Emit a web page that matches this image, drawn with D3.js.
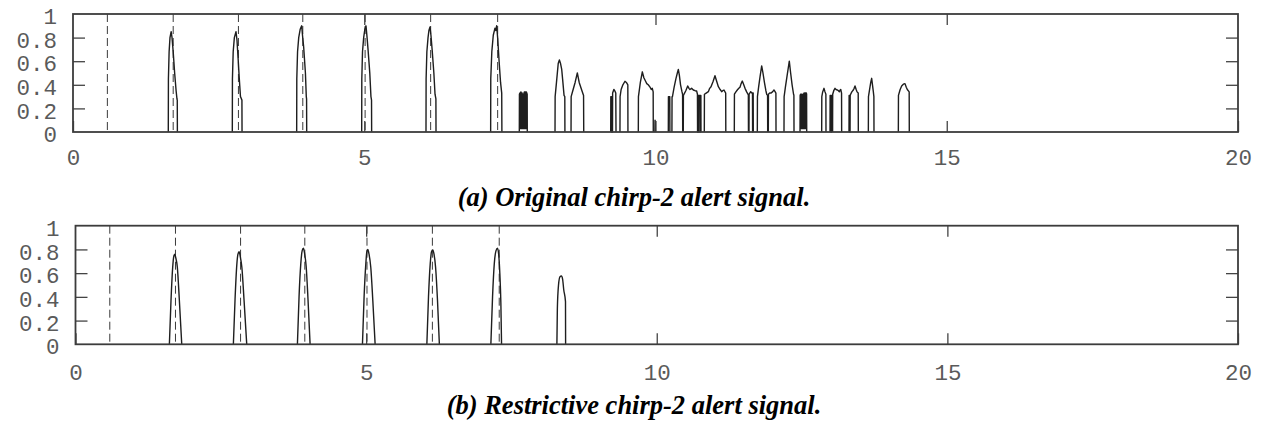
<!DOCTYPE html>
<html>
<head>
<meta charset="utf-8">
<script src="https://cdn.jsdelivr.net/npm/d3@7"></script>
<style>
  html, body { margin: 0; padding: 0; background: #fff; }
  svg { display: block; }
  .tick text { font-family: "Liberation Mono", "DejaVu Sans Mono", monospace; fill: #5a5a5a; }
  .caption { font-family: "Liberation Serif", "Times New Roman", serif; font-weight: bold; font-style: italic; fill: #000; }
</style>
</head>
<body>
<svg id="chart" width="1264" height="426"></svg>
<script>
// Axis ticks (time in seconds, normalised amplitude)
const timeTicks = [0, 5, 10, 15, 20];
const innerTimeTicks = [5, 10, 15];
const ampTicks = [0, 0.2, 0.4, 0.6, 0.8, 1];
const innerAmpTicks = [0.2, 0.4, 0.6, 0.8];

// Expected chirp onsets (dashed reference lines)
const onsetTimes = [0.59, 1.72, 2.84, 3.945, 5.015, 6.14, 7.29];

// (a) original chirp-2 alert signal: envelope of each detected burst, [time, amplitude]
const originalBursts = [
  [[1.636,0],[1.638,0.45],[1.65,0.68],[1.665,0.8],[1.685,0.85],[1.70,0.8],[1.72,0.68],[1.745,0.5],[1.77,0.35],[1.785,0.28],[1.79,0.27],[1.792,0]],
  [[2.735,0],[2.737,0.45],[2.75,0.68],[2.77,0.8],[2.798,0.85],[2.815,0.78],[2.835,0.62],[2.855,0.45],[2.875,0.3],[2.9,0.27],[2.902,0]],
  [[3.84,0],[3.842,0.45],[3.855,0.68],[3.875,0.8],[3.9,0.87],[3.926,0.9],[3.94,0.82],[3.96,0.72],[3.99,0.5],[4.005,0.3],[4.01,0.28],[4.012,0]],
  [[4.956,0],[4.958,0.45],[4.97,0.68],[4.99,0.8],[5.01,0.87],[5.03,0.9],[5.045,0.82],[5.065,0.7],[5.095,0.5],[5.115,0.3],[5.125,0.27],[5.127,0]],
  [[6.06,0],[6.062,0.45],[6.075,0.68],[6.095,0.8],[6.11,0.86],[6.129,0.89],[6.145,0.82],[6.165,0.7],[6.195,0.5],[6.215,0.32],[6.23,0.28],[6.232,0]],
  [[7.17,0],[7.172,0.45],[7.19,0.68],[7.215,0.82],[7.244,0.88],[7.258,0.86],[7.273,0.9],[7.29,0.8],[7.315,0.6],[7.34,0.42],[7.36,0.33],[7.363,0]],
  [[7.662,0],[7.664,0.32],[7.672,0.33],[7.674,0.03],[7.68,0.03],[7.682,0.33],[7.69,0.34],[7.692,0.03],[7.70,0.03],[7.702,0.33],[7.71,0.33],[7.712,0.03],[7.72,0.03],[7.722,0.32],[7.73,0.32],[7.732,0.03],[7.74,0.03],[7.742,0.33],[7.75,0.34],[7.752,0.03],[7.76,0.03],[7.762,0.34],[7.77,0.34],[7.772,0.03],[7.78,0.03],[7.782,0.34],[7.79,0.33],[7.797,0.32],[7.799,0]],
  [[8.275,0],[8.277,0.3],[8.30,0.42],[8.33,0.58],[8.35,0.61],[8.37,0.58],[8.39,0.53],[8.405,0.45],[8.43,0.31],[8.443,0.3],[8.445,0]],
  [[8.55,0],[8.552,0.3],[8.58,0.35],[8.62,0.42],[8.658,0.5],[8.69,0.42],[8.73,0.36],[8.765,0.31],[8.768,0]],
  [[9.231,0],[9.233,0.3],[9.245,0.3],[9.247,0],[9.262,0],[9.264,0.33],[9.285,0.36],[9.30,0.35],[9.318,0.33],[9.322,0]],
  [[9.39,0],[9.392,0.3],[9.41,0.36],[9.44,0.4],[9.476,0.43],[9.50,0.42],[9.525,0.4],[9.527,0]],
  [[9.705,0],[9.707,0.3],[9.74,0.42],[9.774,0.51],[9.80,0.46],[9.83,0.43],[9.85,0.41],[9.875,0.4],[9.906,0.38],[9.93,0.36],[9.945,0.37],[9.96,0.34],[9.962,0]],
  [[9.99,0],[9.992,0.1],[9.996,0.09],[9.998,0]],
  [[10.22,0],[10.222,0.3],[10.245,0.3],[10.247,0]],
  [[10.282,0],[10.284,0.3],[10.289,0.3],[10.291,0.3],[10.32,0.38],[10.35,0.45],[10.375,0.5],[10.392,0.53],[10.41,0.48],[10.43,0.4],[10.455,0.34],[10.465,0.32],[10.467,0]],
  [[10.477,0],[10.479,0.31],[10.52,0.35],[10.553,0.39],[10.575,0.37],[10.592,0.36],[10.62,0.37],[10.649,0.356],[10.68,0.35],[10.707,0.347],[10.72,0.32],[10.722,0],[10.735,0],[10.737,0.31],[10.76,0.31],[10.762,0],[10.768,0],[10.77,0.31],[10.779,0.31],[10.781,0]],
  [[10.838,0],[10.84,0.32],[10.87,0.33],[10.907,0.342],[10.93,0.37],[10.953,0.384],[10.99,0.43],[11.021,0.477],[11.05,0.43],[11.079,0.384],[11.11,0.36],[11.136,0.342],[11.155,0.35],[11.176,0.356],[11.205,0.33],[11.207,0]],
  [[11.353,0],[11.355,0.32],[11.38,0.34],[11.404,0.356],[11.43,0.37],[11.45,0.379],[11.47,0.41],[11.49,0.432],[11.515,0.4],[11.537,0.37],[11.565,0.34],[11.594,0.314],[11.596,0],[11.605,0],[11.607,0.32],[11.634,0.342],[11.655,0.33],[11.665,0.33],[11.667,0],[11.672,0],[11.674,0.33],[11.677,0.33],[11.679,0]],
  [[11.748,0],[11.75,0.3],[11.77,0.38],[11.795,0.47],[11.823,0.56],[11.845,0.5],[11.87,0.42],[11.895,0.35],[11.909,0.32],[11.924,0.31],[11.926,0]],
  [[11.937,0],[11.939,0.32],[11.96,0.33],[11.985,0.33],[12.012,0.342],[12.034,0.356],[12.055,0.34],[12.067,0.33],[12.069,0]],
  [[12.206,0],[12.208,0.3],[12.23,0.38],[12.26,0.48],[12.297,0.6],[12.32,0.5],[12.345,0.4],[12.37,0.32],[12.376,0.31],[12.378,0]],
  [[12.481,0],[12.483,0.31],[12.49,0.32],[12.492,0.03],[12.50,0.03],[12.502,0.32],[12.51,0.32],[12.512,0.03],[12.52,0.03],[12.522,0.31],[12.53,0.32],[12.532,0.03],[12.54,0.03],[12.542,0.32],[12.55,0.33],[12.552,0.03],[12.56,0.03],[12.562,0.33],[12.57,0.33],[12.572,0.03],[12.578,0.03],[12.58,0.33],[12.59,0.33],[12.594,0.32],[12.596,0]],
  [[12.853,0],[12.855,0.3],[12.87,0.34],[12.893,0.37],[12.91,0.34],[12.925,0.32],[12.927,0]],
  [[12.996,0],[12.998,0.31],[13.01,0.31],[13.012,0],[13.02,0],[13.022,0.31],[13.034,0.31],[13.036,0]],
  [[13.04,0],[13.042,0.32],[13.06,0.35],[13.082,0.37],[13.1,0.36],[13.122,0.356],[13.14,0.35],[13.156,0.342],[13.17,0.355],[13.18,0.36],[13.194,0.33],[13.196,0]],
  [[13.322,0],[13.324,0.31],[13.335,0.31],[13.337,0],[13.34,0],[13.342,0.31],[13.35,0.32],[13.37,0.34],[13.396,0.356],[13.41,0.37],[13.425,0.39],[13.445,0.36],[13.46,0.34],[13.48,0.33],[13.482,0]],
  [[13.654,0],[13.656,0.3],[13.675,0.36],[13.695,0.42],[13.711,0.455],[13.725,0.4],[13.74,0.34],[13.749,0.3],[13.751,0]],
  [[14.169,0],[14.171,0.31],[14.2,0.36],[14.226,0.39],[14.255,0.405],[14.283,0.41],[14.305,0.38],[14.323,0.36],[14.355,0.34],[14.357,0]]
];

// (b) restrictive chirp-2 alert signal
const restrictiveBursts = [
  [[1.615,0],[1.643,0.37],[1.672,0.65],[1.69,0.74],[1.707,0.76],[1.725,0.73],[1.752,0.65],[1.787,0.37],[1.828,0]],
  [[2.716,0],[2.745,0.38],[2.775,0.67],[2.795,0.76],[2.814,0.78],[2.835,0.74],[2.862,0.65],[2.9,0.37],[2.946,0]],
  [[3.818,0],[3.846,0.4],[3.876,0.68],[3.9,0.79],[3.921,0.81],[3.94,0.77],[3.968,0.66],[4.0,0.38],[4.036,0]],
  [[4.937,0],[4.965,0.4],[4.995,0.68],[5.012,0.78],[5.029,0.8],[5.05,0.76],[5.08,0.65],[5.115,0.37],[5.155,0]],
  [[6.045,0],[6.073,0.4],[6.103,0.68],[6.125,0.78],[6.148,0.795],[6.168,0.76],[6.195,0.65],[6.228,0.37],[6.26,0]],
  [[7.146,0],[7.175,0.4],[7.205,0.68],[7.235,0.79],[7.26,0.81],[7.28,0.76],[7.3,0.6],[7.318,0.35],[7.33,0]],
  [[8.282,0],[8.29,0.3],[8.31,0.5],[8.335,0.57],[8.36,0.576],[8.38,0.55],[8.40,0.46],[8.43,0.36],[8.432,0]]
];

const svg = d3.select("#chart");

const panels = [
  { bursts: originalBursts, left: 73, right: 1238, top: 14, bottom: 132, labelPad: 17.5,
    caption: "(a) Original chirp-2 alert signal.", capX: 634, capY: 206, capSize: 26.5, curve: d3.curveLinear },
  { bursts: restrictiveBursts, left: 75.5, right: 1238, top: 225.7, bottom: 344.3, labelPad: 20,
    caption: "(b) Restrictive chirp-2 alert signal.", capX: 634, capY: 414, capSize: 26.5, curve: d3.curveMonotoneX }
];

panels.forEach(p => {
  const x = d3.scaleLinear().domain([0, 20]).range([p.left, p.right]);
  const y = d3.scaleLinear().domain([0, 1]).range([p.bottom, p.top]);
  const g = svg.append("g");

  // dashed onset markers
  g.selectAll("line.onset").data(onsetTimes).join("line")
    .attr("class", "onset")
    .attr("x1", d => x(d)).attr("x2", d => x(d))
    .attr("y1", y(1)).attr("y2", y(0))
    .attr("stroke", "#3a3a3a").attr("stroke-width", 1)
    .attr("stroke-dasharray", "8,4");

  // signal bursts
  const line = d3.line().x(d => x(d[0])).y(d => y(d[1])).curve(p.curve);
  g.selectAll("path.burst").data(p.bursts).join("path")
    .attr("class", "burst")
    .attr("d", line)
    .attr("fill", "none")
    .attr("stroke", "#1e1e1e")
    .attr("stroke-width", 1.4)
    .attr("stroke-linejoin", "round");

  // bottom axis with labels, inward ticks
  const xb = g.append("g").attr("transform", `translate(0,${y(0)})`)
    .call(d3.axisBottom(x).tickValues(timeTicks).tickSizeInner(-11).tickSizeOuter(0)
      .tickPadding(p.labelPad).tickFormat(d3.format("d")));
  const xt = g.append("g").attr("transform", `translate(0,${y(1)})`)
    .call(d3.axisTop(x).tickValues(innerTimeTicks).tickSizeInner(-11).tickSizeOuter(0).tickFormat(""));
  const yl = g.append("g").attr("transform", `translate(${x(0)},0)`)
    .call(d3.axisLeft(y).tickValues(ampTicks).tickSizeOuter(0).tickPadding(16)
      .tickSize(0).tickFormat(d => d === 0 || d === 1 ? d3.format("d")(d) : d3.format(".1f")(d)));
  const yli = g.append("g").attr("transform", `translate(${x(0)},0)`)
    .call(d3.axisLeft(y).tickValues(innerAmpTicks).tickSizeInner(-12).tickSizeOuter(0).tickFormat(""));
  const yr = g.append("g").attr("transform", `translate(${x(20)},0)`)
    .call(d3.axisRight(y).tickValues(innerAmpTicks).tickSizeInner(-12).tickSizeOuter(0).tickFormat(""));

  [xb, xt, yl, yli, yr].forEach(a => {
    a.select(".domain").remove();
    a.selectAll(".tick line").attr("stroke", "#444").attr("stroke-width", 1.3);
  });
  xb.selectAll(".tick text").attr("font-size", 22.5).attr("fill", "#5a5a5a");
  yl.selectAll(".tick text").attr("font-size", 22.5).attr("fill", "#5a5a5a").attr("dy", "0.43em");

  // frame
  g.append("rect")
    .attr("x", x(0)).attr("y", y(1))
    .attr("width", x(20) - x(0)).attr("height", y(0) - y(1))
    .attr("fill", "none").attr("stroke", "#3c3c3c").attr("stroke-width", 1.8);

  // caption
  svg.append("text").attr("class", "caption")
    .attr("x", p.capX).attr("y", p.capY)
    .attr("text-anchor", "middle").attr("font-size", p.capSize)
    .text(p.caption);
});
</script>
</body>
</html>
